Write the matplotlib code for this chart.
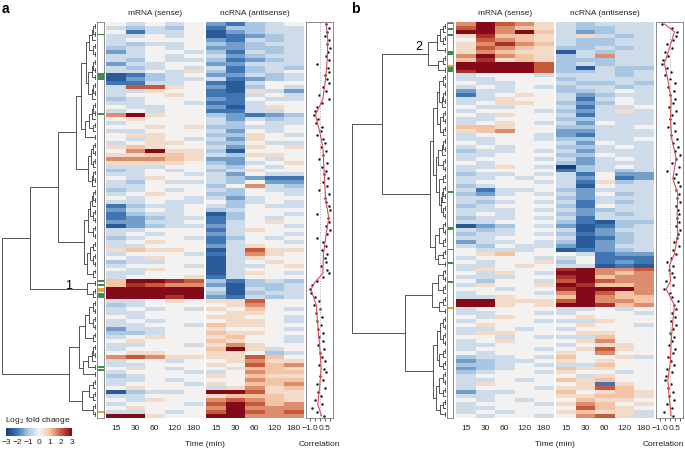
import numpy as np
import matplotlib
import matplotlib.pyplot as plt
from matplotlib.colors import LinearSegmentedColormap, Normalize
from matplotlib.collections import LineCollection
from matplotlib.patches import Rectangle

plt.rcParams['font.family'] = ['Liberation Sans', 'DejaVu Sans']

times = ['15', '30', '60', '120', '180']
# one letter per cell: a = -3 ... g = 0 ... m = +3 (steps of 0.5)
levels = 'abcdefghijklm'

mrna_a = [
    'gfgfg', 'fefeg', 'gcffg', 'ffgfg', 'fgggg', 'feffg', 'efgfg', 'dfggf', 'ffgfg', 'fegff',
    'dffgg', 'fefgf', 'ffgfh', 'bcefg', 'bdeff', 'ccffg', 'fkkhg', 'ffhgg', 'fgghg', 'efggg',
    'ffggf', 'gffgg', 'fgfgg', 'jmhgg', 'ghggg', 'fgggg', 'gghgh', 'ffggg', 'ghhgg', 'gfhgf',
    'fghhg', 'hihgg', 'gjmhh', 'hhiih', 'jjjih', 'hhhhg', 'fffgg', 'efgfg', 'ffggf', 'gfhgg',
    'fegff', 'ffggg', 'efgfg', 'fghgg', 'gfggf', 'ffgff', 'ceffg', 'dfgfg', 'ceffg', 'cdeff',
    'ddffg', 'bdeff', 'ffggg', 'fgfgg', 'efggf', 'fghgg', 'ffggg', 'hihhg', 'fgggf', 'gfhgg',
    'effgg', 'fgggf', 'gfhgg', 'ffggg', 'fgggh', 'immlk', 'ilkjj', 'mmmmm', 'mmmmm', 'mmmlm',
    'ffghg', 'efggg', 'fgfgf', 'ffggg', 'gfggg', 'fgfgg', 'ffggf', 'dffgg', 'eefgg', 'fghgg',
    'ghggg', 'ffggf', 'fgggg', 'ghhgg', 'jkjhh', 'fggfg', 'ffggg', 'ghgfg', 'fgggf', 'efggg',
    'ffgfg', 'fgggf', 'ghggg', 'beffg', 'ffggg', 'gfhgg', 'fgggf', 'ghggg', 'ffgfg', 'mmhgg',
]
ncrna_a = [
    'dcefg', 'ceeff', 'bdeff', 'bcdef', 'dcfef', 'edeff', 'ddeef', 'ecfef', 'fdeff', 'ecdef',
    'ddfff', 'fcefe', 'ecefg', 'ddfef', 'fcdef', 'cbfgg', 'dbegf', 'cbhfd', 'ccfgf', 'dcgff',
    'ccfgg', 'dbfhg', 'ccffg', 'edcde', 'fdfef', 'fegff', 'eeffg', 'fdgfg', 'eehgf', 'fdhgg',
    'eegff', 'fdhgh', 'ebggg', 'fehhg', 'ddgfg', 'edfgh', 'fegfg', 'efhgg', 'fdgff', 'fedcc',
    'fegdd', 'egjfe', 'fegff', 'eeggf', 'fdfgg', 'gefgf', 'fegff', 'efggg', 'beggf', 'cegfg',
    'cfghg', 'dfggf', 'cfhgg', 'dfggf', 'cegfg', 'cfggf', 'dfhgg', 'bfkhh', 'cfjhg', 'bfhgg',
    'bfghg', 'bffgh', 'bfggg', 'bfhgf', 'cfggg', 'ecefe', 'dbeef', 'fbfef', 'ebeff', 'dcfef',
    'hhkgg', 'ghjgg', 'hgigf', 'ghhgg', 'hhggf', 'ghhgf', 'ihhgg', 'hgggf', 'ihhgg', 'higgf',
    'ihggf', 'hjhgg', 'imhfg', 'hhgef', 'hhkig', 'ghjhh', 'hgkij', 'ghiih', 'fgjii', 'hgihh',
    'ggjii', 'hgiij', 'fhjhi', 'mmkhh', 'hiiih', 'jkjih', 'kmkij', 'jmjjj', 'kmkjk', 'mmjjj',
]
mrna_b = [
    'jmkjh', 'kmjih', 'mmjmi', 'hliih', 'gkjih', 'hjlji', 'hkjih', 'hjihh', 'jmjih', 'ilhih',
    'mmmmk', 'mmmmk', 'lmmmk', 'fgggf', 'ffggg', 'gffgg', 'fgfgf', 'dffgg', 'cfghg', 'ffhgg',
    'fghhg', 'gffgg', 'fgggf', 'gfhgg', 'ffggg', 'fghgf', 'iihgg', 'hijgg', 'fgggf', 'ffggf',
    'gfggg', 'fgfgg', 'effgf', 'ffggg', 'fgggf', 'gfggg', 'ffhgf', 'fgggg', 'effgf', 'ffgfg',
    'fgggf', 'efggg', 'fcffg', 'edfgf', 'ffggg', 'fefgf', 'efggg', 'fffgf', 'fgfgg', 'effgf',
    'ffggg', 'bdegf', 'fefgg', 'effgf', 'ffggg', 'dffgf', 'fegff', 'gfffg', 'ghigg', 'fgggf',
    'gfggh', 'ffghg', 'fhggg', 'gfhgf', 'fffgg', 'geggf', 'fhggh', 'ggfgg', 'fgggf', 'ffhgg',
    'mmhhh', 'mmhgh', 'fgggg', 'ffggf', 'gfhgg', 'fgggf', 'ghggg', 'ffgfg', 'fhhgg', 'ggfgf',
    'fghgg', 'ffggg', 'fgggf', 'gfggg', 'effgf', 'deffg', 'eefgf', 'defgg', 'efggf', 'fgggg',
    'ffgfg', 'fhggg', 'fgggf', 'dffgg', 'ffggg', 'gfgfg', 'fgggf', 'ffggg', 'fgfgg', 'gfggf',
]
ncrna_b = [
    'fefff', 'feeff', 'fdeff', 'fhfef', 'feeff', 'feeff', 'eefef', 'bfeff', 'efjff', 'eeeff',
    'efeff', 'ebfee', 'eefef', 'fffef', 'effff', 'feefe', 'effef', 'eefgf', 'fdeff', 'fcfgf',
    'edegf', 'fcffg', 'edfhf', 'fcfff', 'eefff', 'fdgff', 'eeffg', 'ddfff', 'dcfff', 'eeffg',
    'fdgff', 'eefgf', 'fdfff', 'eegff', 'fdfgf', 'edfff', 'aefgf', 'cefef', 'fcgdd', 'fdgcd',
    'fchef', 'fbgff', 'edfff', 'fdgef', 'edfff', 'fcfef', 'ecgff', 'fdeff', 'edfef', 'fcfff',
    'ecbee', 'dbcef', 'fbdff', 'ecdef', 'fbcef', 'ebdef', 'dbdff', 'bcdef', 'gfcdd', 'fgccc',
    'egcdc', 'ffbcb', 'lmjjk', 'mmjij', 'lmijj', 'kmkjj', 'mliij', 'lmmmj', 'jmkij', 'imjii',
    'kmjji', 'mmlij', 'ffgfg', 'fgggf', 'ghggg', 'ffhgg', 'ghggf', 'fgggg', 'ghhgg', 'ffigg',
    'ghjgg', 'fghhg', 'ghkhg', 'hgjgg', 'igghf', 'hghgg', 'ffigg', 'ihhgg', 'hggfg', 'gfhgg',
    'ihigg', 'ghchg', 'hhkig', 'ighih', 'hhiih', 'gihhg', 'hjigh', 'gkihg', 'hihhf', 'gjkhf',
]

# correlation per gene (one dot per row) and the smoothed trend
corr_a = [
    0.6, 0.9, 0.75, 0.5, 0.95, 0.7, 1.0, 0.85, 0.6, 0.9,
    -0.3, 0.8, 0.95, 0.55, 0.7, 0.9, 0.3, 0.6, -0.1, 0.95,
    0.2, -0.3, -0.5, -0.6, -0.2, -0.4, 0.2, 0.1, -0.3, 0.3,
    0.5, 0.1, 0.6, 0.3, -0.1, 0.7, 0.2, 0.6, 0.4, 0.8,
    0.3, 0.7, -0.1, 0.9, 0.5, 0.6, 0.95, 1.0, -0.3, 0.8,
    0.9, 0.6, 1.05, 0.7, -0.3, 0.3, 0.6, 0.2, 0.7, 0.5,
    0.6, 0.1, 0.7, 0.9, 0.3, -0.3, -0.8, -1.0, -0.9, -0.5,
    -0.1, -0.6, 0.0, -0.4, 0.2, -0.3, 0.1, -0.2, 0.3, -0.1,
    0.3, -0.2, 0.4, 0.0, 0.2, 0.5, -0.1, 0.4, 0.6, 0.0,
    0.3, -0.3, 0.5, -0.2, 0.1, -0.5, 0.2, -0.8, -0.3, 0.4,
]
corr_b = [
    -0.8, 0.2, 0.7, 0.6, 0.3, -0.3, 0.2, -0.5, -0.2, -0.7,
    -0.8, -0.3, 0.1, -0.5, 0.0, 0.5, -0.2, 0.4, 0.0, 0.5,
    0.3, -0.1, 0.6, 0.2, 0.0, 0.4, -0.2, 0.5, 0.1, 0.7,
    0.3, 0.8, 0.5, 1.0, 0.6, 0.2, 0.9, -0.3, 0.6, 0.4,
    0.8, 1.0, 0.6, 0.9, 0.7, 1.0, 0.6, 0.8, 0.9, 0.7,
    0.9, 0.6, 1.0, 0.8, 0.7, 0.4, 0.9, 0.3, 0.6, 0.1,
    -0.3, 0.3, -0.1, 0.2, 0.4, -0.4, 0.3, -0.6, 0.0, 0.2,
    0.8, 0.4, 0.6, 0.2, 0.5, 0.1, 0.6, 0.3, 0.0, 0.4,
    0.2, -0.1, 0.5, 0.3, -0.2, 0.1, 0.4, -0.3, 0.2, -0.4,
    -0.5, 0.1, -0.2, 0.3, -0.1, 0.4, -0.3, 0.2, -0.6, 0.3,
]
trend_rows_a = [0, 4, 9, 14, 19, 23, 27, 31, 34, 39, 44, 49, 53, 58, 63, 65, 67, 71, 76, 81, 87, 92, 96, 99]
trend_a = [0.67, 0.83, 0.77, 0.6, 0.33, -0.4, 0.0, 0.33, 0.4, 0.5, 0.6, 0.93, 0.67, 0.4, 0.33,
           -0.4, -0.85, -0.33, -0.17, 0.0, 0.17, 0.0, -0.17, 0.2]
trend_rows_b = [0, 2, 6, 10, 14, 19, 24, 29, 34, 39, 43, 48, 53, 58, 61, 65, 67, 71, 75, 80, 85, 90, 95, 99]
trend_b = [-0.5, 0.5, 0.0, -0.5, -0.17, 0.17, 0.1, 0.23, 0.67, 0.33, 0.83, 0.77, 0.83, 0.5, 0.0,
           0.1, -0.33, 0.5, 0.33, 0.17, 0.1, -0.17, 0.0, 0.17]

# annotated genes: (row, height in rows, class)
annot_a = [(3.0, 0.4, 'g'), (12.9, 1.8, 'g'), (23.0, 0.4, 'g'), (65.2, 0.45, 'g'), (66.2, 0.45, 'g'),
           (67.2, 0.9, 'o'), (68.4, 1.4, 'g'), (86.9, 0.4, 'g'), (87.7, 0.4, 'g'), (98.3, 0.45, 'o')]
annot_b = [(0.0, 0.6, 'g'), (1.5, 0.4, 'g'), (3.0, 0.6, 'g'), (7.3, 1.0, 'g'), (10.8, 0.45, 'o'),
           (11.3, 1.3, 'g'), (42.6, 0.7, 'g'), (51.8, 0.7, 'g'), (57.3, 0.4, 'g'), (60.6, 0.4, 'g'),
           (65.4, 0.4, 'g'), (71.9, 0.5, 'o')]

# clustering trees: (merge height, left, right); an int is a tight group of that many genes
tree_a = (1.0,
          (0.70,
           (0.40,
            (0.21,
             (0.16, (0.11, (0.07, 5, 4), (0.08, 6, 5)), (0.12, (0.07, 5, 3), 2)),
             (0.08, (0.05, 4, 3), 5)),
            (0.13, (0.09, (0.06, 5, 4), 4), (0.10, (0.06, 3, 4), 3))),
           (0.10, 2, 3)),
          (0.29,
           (0.18, (0.12, (0.07, 4, 4), 3), (0.14, (0.08, 5, 2), 2)),
           (0.15, (0.07, 3, 3), 4)))
tree_b = (1.0,
          (0.68,
           (0.19, (0.10, (0.06, 3, 3), 2), (0.09, 3, 2)),
           (0.17,
            (0.14, (0.10, (0.07, 4, 5), (0.06, 4, 3)),
             (0.11, (0.08, 5, 4), (0.07, 3, (0.05, 5, 4)))),
            (0.12, (0.07, 4, 3), (0.08, 3, 2)))),
          (0.44,
           (0.15, (0.09, 4, 3), (0.07, 3, 2)),
           (0.14, (0.10, (0.06, 4, 4), (0.07, 3, 3)), (0.11, (0.07, 4, 3), (0.06, 3, 2)))))
fine_h = [0.015, 0.03, 0.045]

cmap = LinearSegmentedColormap.from_list('fc', [
    (0.0, '#163f7c'), (1 / 6, '#3f76b3'), (2 / 6, '#a9c6e2'), (0.5, '#f5f3f1'),
    (4 / 6, '#f2c4a3'), (5 / 6, '#c95b3d'), (1.0, '#840a1a')])
annot_col = {'g': '#3d8b4f', 'o': '#e9a232'}
W, H = 685, 450
FS = 6.0


def decode(rows):
    return np.array([[levels.index(c) / 2 - 3 for c in r] for r in rows])


def join(a, b, h, segs):
    (ya, ha), (yb, hb) = a, b
    segs.append([(ha, ya), (h, ya), (h, yb), (hb, yb)])
    return ((ya + yb) / 2, h)


def build(node, start, segs):
    if isinstance(node, int):
        items = [(start + i + 0.5, 0.0) for i in range(node)]
        lvl = 0
        while len(items) > 1:
            nxt = []
            for j in range(0, len(items), 2):
                if j + 1 < len(items):
                    nxt.append(join(items[j], items[j + 1], fine_h[min(lvl, 2)], segs))
                else:
                    nxt.append(items[j])
            items = nxt
            lvl += 1
        return items[0], start + node
    h, left, right = node
    a, start = build(left, start, segs)
    b, start = build(right, start, segs)
    return join(a, b, h, segs), start


def box(x0, x1, y0=22, y1=418):
    return fig.add_axes([x0 / W, 1 - y1 / H, (x1 - x0) / W, (y1 - y0) / H])


def panel(x, tree, annot, mrna, ncrna, corr, trow, trend, tag, clabel, cpos, corr_x):
    n = len(mrna)
    # dendrogram
    ax = box(x, x + 96)
    segs = []
    build(tree, 0, segs)
    ax.add_collection(LineCollection(segs, colors='#3a3a3a', linewidths=0.6))
    ax.set_xlim(1.02, 0)
    ax.set_ylim(n, 0)
    ax.axis('off')
    # annotation strip
    ax = box(x + 97, x + 103.5)
    for r, s, c in annot:
        ax.add_patch(Rectangle((0, r), 1, s, color=annot_col[c], lw=0))
    ax.set_xlim(0, 1)
    ax.set_ylim(n, 0)
    ax.set_xticks([])
    ax.set_yticks([])
    for sp in ax.spines.values():
        sp.set_color('#8a8a8a')
        sp.set_linewidth(0.7)
    # heatmaps
    for vals, x0, title in [(mrna, x + 106, 'mRNA (sense)'), (ncrna, x + 206, 'ncRNA (antisense)')]:
        ax = box(x0, x0 + 97.5)
        ax.imshow(decode(vals), cmap=cmap, vmin=-3, vmax=3, aspect='auto',
                  interpolation='nearest', extent=(0, 5, n, 0))
        ax.set_xticks(np.arange(5) + 0.5)
        ax.set_xticklabels(times)
        ax.set_yticks([])
        ax.tick_params(axis='x', length=0, labelsize=FS, pad=5, colors='#222')
        for sp in ax.spines.values():
            sp.set_visible(False)
        ax.set_title(title, fontsize=FS, pad=5, color='#222')
    fig.text((x + 205) / W, 1 - 444 / H, 'Time (min)', fontsize=FS, ha='center', va='center', color='#222')
    # correlation
    ax = box(x + 305.5, x + 333)
    rows = np.arange(n) + 0.5
    ax.axvline(0, color='#aaaaaa', ls=':', lw=0.7)
    ax.plot(trend, np.array(trow) + 0.5, color='#dc4b57', lw=0.8)
    ax.scatter(corr, rows, s=3.2, color='#1a1a1a', lw=0)
    ax.set_xlim(-1.4, 1.35)
    ax.set_ylim(n, 0)
    ax.set_yticks([])
    ax.set_xticks([-1, -0.5, 0, 0.5, 1])
    ax.set_xticklabels(['\u22121.0', '', '', '0.5', ''])
    ax.tick_params(axis='x', length=2, width=0.5, labelsize=FS, pad=3, colors='#222')
    for sp in ax.spines.values():
        sp.set_color('#8a8a8a')
        sp.set_linewidth(0.7)
    fig.text(corr_x / W, 1 - 444 / H, 'Correlation', fontsize=FS, ha='center', va='center', color='#222')
    fig.text((x + 5) / W, 1 - 9 / H, tag, fontsize=10, fontweight='bold', ha='center', va='center')
    fig.text(cpos[0] / W, 1 - cpos[1] / H, clabel, fontsize=9, ha='center', va='center')


fig = plt.figure(figsize=(W / 100, H / 100), dpi=100)
panel(0, tree_a, annot_a, mrna_a, ncrna_a, corr_a, trend_rows_a, trend_a, 'a', '1', (69, 286), 319)
panel(350, tree_b, annot_b, mrna_b, ncrna_b, corr_b, trend_rows_b, trend_b, 'b', '2', (419, 47), 663)

# colour key
cax = fig.add_axes([6 / W, 1 - 436 / H, 66 / W, 8 / H])
sm = matplotlib.cm.ScalarMappable(norm=Normalize(-3, 3), cmap=cmap)
cb = fig.colorbar(sm, cax=cax, orientation='horizontal', ticks=[-3, -2, -1, 0, 1, 2, 3])
cb.outline.set_visible(False)
cb.ax.tick_params(length=0, labelsize=FS, pad=2, colors='#222')
cb.ax.set_xticklabels(['\u22123', '\u22122', '\u22121', '0', '1', '2', '3'])
fig.text(38 / W, 1 - 420 / H, 'Log$_2$ fold change', fontsize=FS, ha='center', va='center', color='#222')

fig.savefig('out.png', dpi=100)
